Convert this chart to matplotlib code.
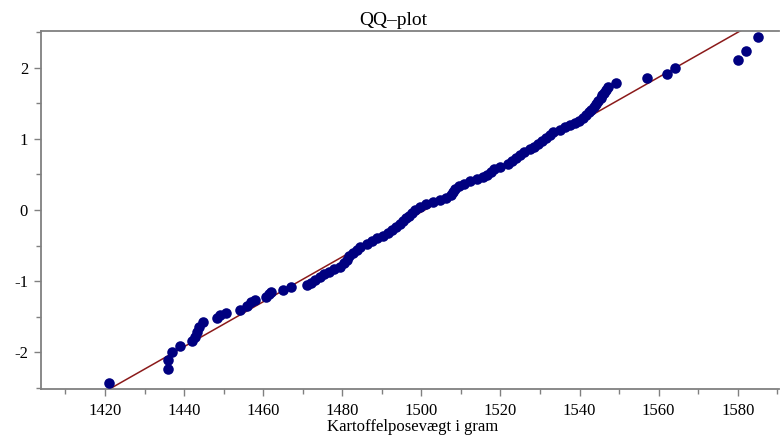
import matplotlib.pyplot as plt
from matplotlib.ticker import MultipleLocator

# vægt af kartoffelposer (gram) og tilhørende normalfordelingskvantiler
weights = [1421.0, 1436.0, 1436.0, 1437.0, 1439.0, 1442.0, 1442.7, 1443.3, 1443.8, 1444.8,
           1448.2, 1449.1, 1450.7, 1454.1, 1455.8, 1456.8, 1458.0, 1460.6, 1461.5, 1462.0,
           1465.0, 1467.0, 1471.0, 1472.2, 1473.0, 1474.3, 1475.5, 1476.6, 1478.0, 1479.3,
           1480.5, 1481.3, 1481.8, 1482.8, 1483.6, 1484.6, 1486.2, 1487.5, 1488.7, 1490.3,
           1491.5, 1492.5, 1493.5, 1494.6, 1495.4, 1496.2, 1497.0, 1497.6, 1498.4, 1499.6,
           1501.2, 1503.0, 1504.8, 1506.2, 1507.4, 1508.0, 1508.6, 1509.5, 1510.8, 1512.4,
           1514.0, 1515.6, 1516.6, 1517.6, 1518.4, 1520.0, 1521.8, 1523.0, 1524.0, 1525.0,
           1526.0, 1527.4, 1528.5, 1529.6, 1530.6, 1531.6, 1532.6, 1533.4, 1535.0, 1536.2,
           1537.6, 1538.8, 1539.8, 1540.8, 1541.7, 1542.4, 1543.0, 1543.6, 1544.2, 1544.7,
           1545.4, 1545.8, 1546.2, 1546.8, 1547.2, 1549.1, 1557.1, 1562.2, 1564.1, 1580.1,
           1582.1, 1585.2]
quantiles = [-2.43, -2.24, -2.11, -1.99, -1.91, -1.84, -1.78, -1.72, -1.64, -1.58,
             -1.52, -1.48, -1.45, -1.40, -1.35, -1.30, -1.26, -1.22, -1.18, -1.15,
             -1.12, -1.08, -1.05, -1.02, -0.98, -0.94, -0.90, -0.87, -0.83, -0.80,
             -0.75, -0.70, -0.65, -0.60, -0.56, -0.52, -0.48, -0.44, -0.40, -0.36,
             -0.32, -0.28, -0.24, -0.20, -0.16, -0.12, -0.08, -0.04, 0.00, 0.04,
             0.08, 0.11, 0.14, 0.17, 0.21, 0.25, 0.29, 0.33, 0.37, 0.40,
             0.43, 0.46, 0.49, 0.53, 0.57, 0.61, 0.65, 0.69, 0.73, 0.77,
             0.81, 0.85, 0.89, 0.93, 0.97, 1.01, 1.05, 1.09, 1.13, 1.16,
             1.19, 1.22, 1.25, 1.29, 1.33, 1.37, 1.41, 1.45, 1.49, 1.53,
             1.57, 1.61, 1.65, 1.69, 1.73, 1.79, 1.85, 1.91, 2.00, 2.11,
             2.24, 2.43]

# referencelinje: middelværdi og spredning
mu = 1500.9
sd = 31.7
line_x = [1421.0, 1585.2]

x_ticks = [1420, 1440, 1460, 1480, 1500, 1520, 1540, 1560, 1580]
y_ticks = [-2, -1, 0, 1, 2]


def plot_qq():
    plt.rcParams['font.family'] = ['Liberation Serif', 'DejaVu Serif']
    plt.rcParams['axes.unicode_minus'] = False

    fig = plt.figure(figsize=(7.8, 4.37), dpi=100)
    ax = fig.add_axes([0.052, 0.110, 0.947, 0.820])

    line_y = [(v - mu) / sd for v in line_x]
    ax.plot(line_x, line_y, color='#8b1a1a', lw=1.1, zorder=2)
    ax.plot(weights, quantiles, 'o', color='#000080', ms=7.6, mec='none', zorder=3)

    ax.set_xlim(1403.7, 1590.5)
    ax.set_ylim(-2.515, 2.52)
    ax.set_xticks(x_ticks)
    ax.set_yticks(y_ticks)
    ax.xaxis.set_minor_locator(MultipleLocator(10))
    ax.yaxis.set_minor_locator(MultipleLocator(0.5))

    for side in ['left', 'bottom', 'top']:
        ax.spines[side].set_color('#808080')
        ax.spines[side].set_linewidth(1.3)
    ax.spines['right'].set_visible(False)

    ax.tick_params(which='major', length=5, width=1, color='#808080', labelsize=12)
    ax.tick_params(axis='x', which='major', pad=5)
    ax.tick_params(axis='y', which='major', pad=4)
    ax.tick_params(which='minor', length=3.5, width=1, color='#808080')
    ax.tick_params(axis='x', which='both', top=False)

    fig.text(0.504, 0.954, 'QQ–plot', fontsize=14, ha='center', va='center')
    fig.text(0.529, 0.004, 'Kartoffelposevægt i gram', fontsize=12, ha='center', va='bottom')

    fig.savefig('out.png', dpi=100)
    return fig


if __name__ == "__main__":
    plot_qq()
